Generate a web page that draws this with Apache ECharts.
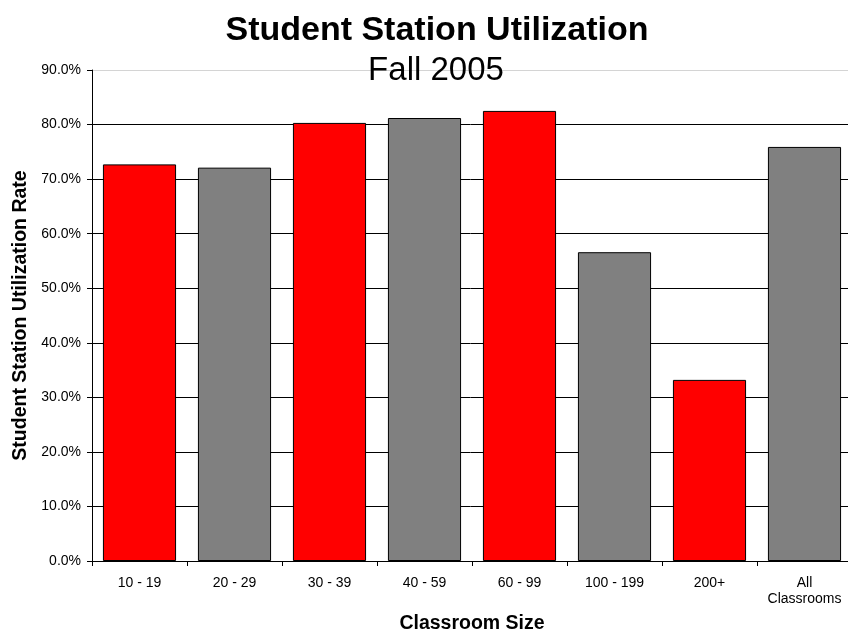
<!DOCTYPE html>
<html>
<head>
<meta charset="utf-8">
<script src="https://cdn.jsdelivr.net/npm/echarts@6/dist/echarts.min.js"></script>
<style>
html,body{margin:0;padding:0;background:#fff;}
#chart{width:848px;height:636px;}
</style>
</head>
<body>
<div id="chart"></div>
<script>
const categories = ['10 - 19', '20 - 29', '30 - 39', '40 - 59', '60 - 99', '100 - 199', '200+', 'All\nClassrooms'];
const utilization = [72.7, 72.1, 80.3, 81.2, 82.5, 56.6, 33.2, 75.9];
const barColors = ['#FF0000', '#808080', '#FF0000', '#808080', '#FF0000', '#808080', '#FF0000', '#808080'];
const yTicks = [0, 10, 20, 30, 40, 50, 60, 70, 80, 90];

const FONT = '"Liberation Sans", Arial, Helvetica, sans-serif';
const chart = echarts.init(document.getElementById('chart'), null, {renderer: 'canvas'});
chart.setOption({
  animation: false,
  backgroundColor: '#ffffff',
  title: [
    {text: 'Student Station Utilization', left: 432, top: 9, textAlign: 'center',
     textStyle: {fontFamily: FONT, fontSize: 34, fontWeight: 'bold', color: '#000'}},
    {text: 'Fall 2005', left: 431, top: 49, textAlign: 'center',
     textStyle: {fontFamily: FONT, fontSize: 33, fontWeight: 'normal', color: '#000'}}
  ],
  grid: {left: 92, right: -4, top: 70, bottom: 75, containLabel: false, outerBoundsMode: 'none'},
  xAxis: {
    type: 'category',
    data: categories,
    name: 'Classroom Size',
    nameLocation: 'middle',
    nameGap: 53,
    nameTextStyle: {fontFamily: FONT, fontSize: 19.5, fontWeight: 'bold', color: '#000'},
    axisLine: {lineStyle: {color: '#000', width: 1}},
    axisTick: {show: true, length: 5, alignWithLabel: false, lineStyle: {color: '#000'}},
    axisLabel: {fontFamily: FONT, fontSize: 14, color: '#000', margin: 14, lineHeight: 16, interval: 0}
  },
  yAxis: {
    type: 'value',
    min: yTicks[0],
    max: yTicks[yTicks.length - 1],
    interval: 10,
    name: 'Student Station Utilization Rate',
    nameLocation: 'middle',
    nameGap: 56,
    nameTextStyle: {fontFamily: FONT, fontSize: 19.5, fontWeight: 'bold', color: '#000'},
    axisLine: {show: true, lineStyle: {color: '#000', width: 1}},
    axisTick: {show: true, length: 5, lineStyle: {color: '#000'}},
    axisLabel: {fontFamily: FONT, fontSize: 14, color: '#000', margin: 11,
      formatter: v => v.toFixed(1) + '%'},
    splitLine: {show: true, lineStyle: {color: ['#000','#000','#000','#000','#000','#000','#000','#000','#000','#d4d4d4'], width: 1}}
  },
  series: [{
    type: 'bar',
    barCategoryGap: '23%',
    data: utilization.map((v, i) => ({value: v, itemStyle: {color: barColors[i]}})),
    itemStyle: {borderColor: '#000', borderWidth: 1}
  }]
});
</script>
</body>
</html>
